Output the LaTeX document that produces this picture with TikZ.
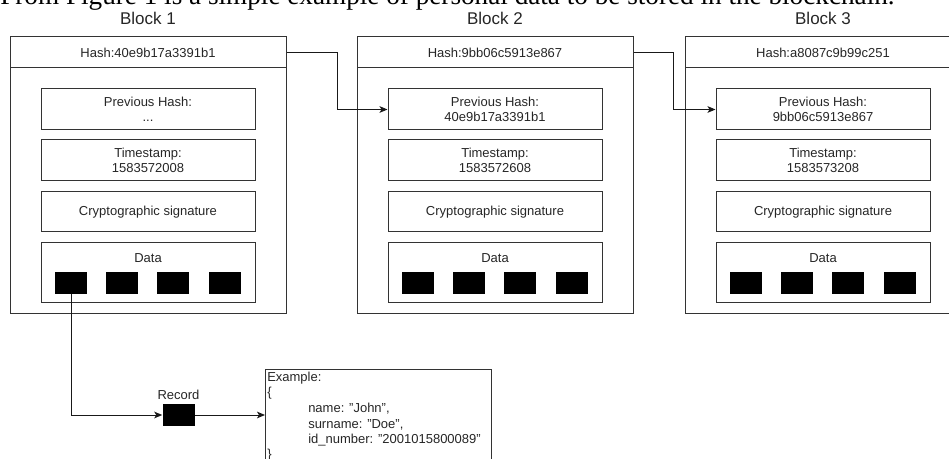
\documentclass[tikz,border=0pt]{standalone}
\usepackage{fontspec}
\setmainfont{Liberation Sans}
\newfontfamily\captionfont{Liberation Serif}
\usetikzlibrary{arrows.meta}

% one block of the chain: #1 id, #2 left edge, #3 title, #4 hash, #5 previous hash, #6 timestamp
\newcommand\chainblock[6]{%
  \node[blocktitle] (t#1) at (#2+138,18.5) {#3};
  \draw[frame] (#2,37) rectangle (#2+276,314);
  \node[header] (h#1) at (#2+138,52.5) {Hash:#4};
  \node[field, minimum height=41*0.75pt] (p#1) at (#2+138,109.5) {Previous Hash:\\#5};
  \node[field, minimum height=41*0.75pt] (s#1) at (#2+138,160.5) {Timestamp:\\#6};
  \node[field, minimum height=40*0.75pt] (g#1) at (#2+138,212) {Cryptographic signature};
  \node[field, minimum height=60*0.75pt] (d#1) at (#2+138,273) {};
  \node[txt] (dl#1) at (#2+138,258) {Data};
  \node[chip] (c#1a) at (#2+61,283) {};
  \node[chip] (c#1b) at (#2+112,283) {};
  \node[chip] (c#1c) at (#2+163,283) {};
  \node[chip] (c#1d) at (#2+215,283) {};
}

\begin{document}
\begin{tikzpicture}[x=0.75pt,y=-0.75pt,
  frame/.style={draw=black!80, line width=0.75pt},
  txt/.style={inner sep=0pt, text=black!85, font=\fontsize{9.75}{11.6}\selectfont},
  blocktitle/.style={inner sep=0pt, text=black!85, font=\fontsize{12.75}{15}\selectfont},
  header/.style={frame, txt, minimum width=276*0.75pt, minimum height=31*0.75pt},
  field/.style={frame, txt, align=center, minimum width=214*0.75pt},
  chip/.style={fill=black, inner sep=0pt, minimum width=32*0.75pt, minimum height=22*0.75pt},
  link/.style={line width=0.75pt, draw=black!90, -{Stealth[length=6pt,width=5pt,inset=1.5pt]}},
  line/.style={txt, anchor=west}
]
\useasboundingbox (0,0) rectangle (949,459);
\clip (0,0) rectangle (949,459);

% running text above the figure
\node[anchor=base west, inner sep=0pt, font=\captionfont\fontsize{20.4}{22}\selectfont]
  (caption) at (0,5) {From Figure 1 is a simple example of personal data to be stored in the blockchain.};

\chainblock{1}{10}{Block 1}{40e9b17a3391b1}{...}{1583572008}
\chainblock{2}{357}{Block 2}{9bb06c5913e867}{40e9b17a3391b1}{1583572608}
\chainblock{3}{685}{Block 3}{a8087c9b99c251}{9bb06c5913e867}{1583573208}

% hash of each block feeds the next one
\draw[link] (h1.east) -- ++(51,0) |- (p2.west);
\draw[link] (h2.east) -- ++(40,0) |- (p3.west);

% one record taken out of the data section
\node[chip] (rec) at (178.5,415) {};
\node[txt] (reclabel) at (178.5,395) {Record};
\draw[link] (c1a.south) |- (rec.west);

\node[frame, anchor=north west, minimum width=226*0.75pt, minimum height=110*0.75pt, inner sep=0pt]
  (ex) at (265,369) {};
\draw[link] (rec.east) -- (rec.east -| ex.west);

\node[line] (ex1) at (267,378) {Example:};
\node[line] (ex2) at (267,393.5) {\{};
\node[line] (ex3) at (308,409) {name: "John",};
\node[line] (ex4) at (308,424.5) {surname: "Doe",};
\node[line] (ex5) at (308,440) {id\_number: "2001015800089"};
\node[line] (ex6) at (267,455.5) {\}};
\end{tikzpicture}
\end{document}
